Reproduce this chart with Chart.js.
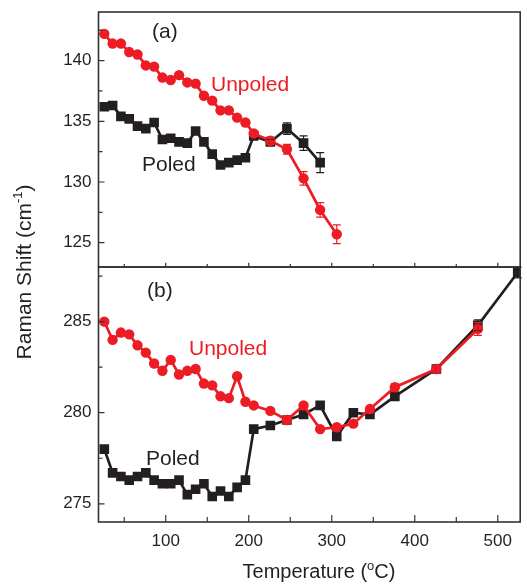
<!DOCTYPE html>
<html><head><meta charset="utf-8">
<script src="https://cdn.jsdelivr.net/npm/chart.js@4/dist/chart.umd.min.js"></script>
<style>html,body{margin:0;padding:0;background:#fff}#wrap{position:relative;width:527px;height:584px}</style>
</head><body><div id="wrap"><canvas id="c" width="527" height="584"></canvas></div>
<script>
// ---- data ----
const temps = [26,36,46,56,66,76,86,96,106,116,126,136,146,156,166,176,186,196,206,226,246,266,286,306,326,346,376,426,476,524];
const unpoledA = [142.2,141.4,141.4,140.7,140.5,139.6,139.5,138.6,138.4,138.8,138.2,138.1,137.1,136.7,135.9,135.9,135.3,134.9,134.0,133.4,132.7,130.3,127.7,125.7];
const poledA   = [136.2,136.3,135.4,135.2,134.6,134.4,134.9,133.5,133.6,133.3,133.2,134.2,133.3,132.3,131.4,131.6,131.8,132.0,133.8,133.3,134.4,133.2,131.6];
const unpoledB = [285.0,284.0,284.4,284.3,283.7,283.3,282.7,282.3,282.9,282.1,282.3,282.4,281.6,281.5,280.9,280.8,282.0,280.6,280.4,280.1,279.6,280.4,279.1,279.2,279.4,280.2,281.4,282.4,284.6];
const poledB   = [278.0,276.7,276.5,276.3,276.5,276.7,276.3,276.1,276.1,276.3,275.5,275.8,276.1,275.4,275.7,275.4,275.9,276.3,279.1,279.3,279.6,279.9,280.4,278.7,280.0,279.9,280.9,282.4,284.8,287.7];
const errUnpoledA = [0,0,0,0,0,0,0,0,0,0,0,0,0,0,0,0,0,0,0,0.3,0.4,0.55,0.6,0.77];
const errPoledA   = [0,0,0,0,0,0,0,0,0,0,0,0,0,0,0,0,0,0,0,0.2,0.47,0.6,0.82];
const errUnpoledB = [0,0,0,0,0,0,0,0,0,0,0,0,0,0,0,0,0,0,0,0,0,0,0,0,0,0,0.2,0.2,0.35];
const errPoledB   = [0,0,0,0,0,0,0,0,0,0,0,0,0,0,0,0,0,0,0,0,0,0,0,0,0,0,0.15,0.2,0.3,0.3];
const xTicks = [100,200,300,400,500];
const xMinorTicks = [50,150,250,350,450];
const yTicksA = [125,130,135,140];
const yMinorTicksA = [127.5,132.5,137.5,142.5];
const yTicksB = [275,280,285];
const yMinorTicksB = [277.5,282.5,287.5];

const RED = '#ED1C24', BLACK = '#231F20';
const FONT = '"Liberation Sans", Arial, Helvetica, sans-serif';

function pts(vals){ return vals.map((v,i)=>({x:temps[i], y:v})); }

const series = [
  {label:'Unpoled (a)', data:pts(unpoledA), err:errUnpoledA, yAxisID:'ya', color:RED, style:'circle', r:5.2},
  {label:'Unpoled (b)', data:pts(unpoledB), err:errUnpoledB, yAxisID:'yb', color:RED, style:'circle', r:5.2},
  {label:'Poled (a)', data:pts(poledA), err:errPoledA, yAxisID:'ya', color:BLACK, style:'rect', r:6.8},
  {label:'Poled (b)', data:pts(poledB), err:errPoledB, yAxisID:'yb', color:BLACK, style:'rect', r:6.8},
];

const errorBars = {
  id:'errorBars',
  afterDatasetsDraw(chart){
    const ctx = chart.ctx, xs = chart.scales.x;
    ctx.save();
    series.slice().reverse().forEach(s=>{
      const ys = chart.scales[s.yAxisID];
      ctx.strokeStyle = s.color; ctx.lineWidth = 1.2;
      s.data.forEach((p,i)=>{
        const e = s.err[i]; if(!e) return;
        const px = xs.getPixelForValue(p.x);
        const y1 = ys.getPixelForValue(p.y+e), y2 = ys.getPixelForValue(p.y-e);
        ctx.beginPath();
        ctx.moveTo(px,y1); ctx.lineTo(px,y2);
        ctx.moveTo(px-4,y1); ctx.lineTo(px+4,y1);
        ctx.moveTo(px-4,y2); ctx.lineTo(px+4,y2);
        ctx.stroke();
      });
    });
    ctx.restore();
  }
};

function supText(ctx, parts, x, y, align){
  let total = 0;
  parts.forEach(p=>{ ctx.font = p[1]+'px '+FONT; total += ctx.measureText(p[0]).width; });
  let cx = align==='center' ? x - total/2 : x;
  parts.forEach(p=>{ ctx.font = p[1]+'px '+FONT; ctx.fillText(p[0], cx, y + p[2]); cx += ctx.measureText(p[0]).width; });
}

const frame = {
  id:'frame',
  afterDraw(chart){
    const ctx = chart.ctx, ca = chart.chartArea;
    const xs = chart.scales.x, ya = chart.scales.ya, yb = chart.scales.yb;
    ctx.save();
    ctx.strokeStyle = '#333'; ctx.lineWidth = 1.6;
    [ya,yb].forEach(s=>ctx.strokeRect(ca.left, s.top, ca.right-ca.left, s.bottom-s.top));
    ctx.lineWidth = 1.2;
    ctx.beginPath();
    const yt = (s, vals, len)=>vals.forEach(v=>{const py=s.getPixelForValue(v); ctx.moveTo(ca.left,py); ctx.lineTo(ca.left+len,py);});
    yt(ya, yTicksA, 6); yt(ya, yMinorTicksA, 4); yt(yb, yTicksB, 6); yt(yb, yMinorTicksB, 4);
    const xt = (vals, len)=>vals.forEach(v=>{const px=xs.getPixelForValue(v);
      ctx.moveTo(px, ca.bottom); ctx.lineTo(px, ca.bottom-len);
      ctx.moveTo(px, ya.bottom); ctx.lineTo(px, ya.bottom-len*0.6);});
    xt(xTicks, 7); xt(xMinorTicks, 5);
    ctx.stroke();

    ctx.textBaseline = 'alphabetic'; ctx.textAlign = 'left';
    ctx.fillStyle = '#231F20';
    ctx.font = '21px '+FONT;
    ctx.fillText('(a)', 152, 38);
    ctx.fillText('(b)', 147, 297);
    ctx.fillText('Poled', 142, 171);
    ctx.fillText('Poled', 146, 465);
    ctx.fillStyle = RED;
    ctx.fillText('Unpoled', 211, 91);
    ctx.fillText('Unpoled', 189, 355);

    ctx.fillStyle = '#231F20';
    supText(ctx, [['Temperature (',20,0],['o',13,-8],['C)',20,0]], 319, 578, 'center');
    ctx.save();
    ctx.translate(31, 272); ctx.rotate(-Math.PI/2);
    supText(ctx, [['Raman Shift (cm',21,0],['-1',13,-9],[')',21,0]], 0, 0, 'center');
    ctx.restore();
    ctx.restore();
  }
};

const noPadV = s=>{ s.width = 98.5; s.paddingTop = 0; s.paddingBottom = 0; };

new Chart(document.getElementById('c'), {
  type:'line',
  data:{ datasets: series.map(s=>({
    label:s.label, data:s.data, yAxisID:s.yAxisID, xAxisID:'x',
    borderColor:s.color, backgroundColor:s.color, borderWidth:2.7,
    pointStyle:s.style, pointRadius:s.r, pointHoverRadius:s.r, pointBorderWidth:0,
    tension:0, fill:false
  }))},
  options:{
    responsive:false, animation:false, devicePixelRatio:1,
    layout:{padding:{top:12, right:4.3, left:0, bottom:0}},
    plugins:{legend:{display:false}, tooltip:{enabled:false}},
    events:[],
    scales:{
      x:{type:'linear', position:'bottom', min:19, max:527,
        grid:{display:false, drawTicks:false}, border:{display:false},
        afterBuildTicks:s=>{s.ticks = xTicks.map(v=>({value:v}));},
        afterFit:s=>{s.height = 62; s.paddingLeft = 0; s.paddingRight = 0;},
        ticks:{color:'#231F20', font:{family:FONT, size:17}, padding:9, maxRotation:0}},
      ya:{type:'linear', position:'left', stack:'y', stackWeight:1, weight:2, min:123, max:144,
        grid:{display:false, drawTicks:false}, border:{display:false},
        afterBuildTicks:s=>{s.ticks = yTicksA.map(v=>({value:v}));},
        afterFit:noPadV,
        ticks:{color:'#231F20', font:{family:FONT, size:17}, padding:7}},
      yb:{type:'linear', position:'left', stack:'y', stackWeight:1, weight:1, min:274, max:288,
        grid:{display:false, drawTicks:false}, border:{display:false},
        afterBuildTicks:s=>{s.ticks = yTicksB.map(v=>({value:v}));},
        afterFit:noPadV,
        ticks:{color:'#231F20', font:{family:FONT, size:17}, padding:7}}
    }
  },
  plugins:[errorBars, frame]
});
</script></body></html>
